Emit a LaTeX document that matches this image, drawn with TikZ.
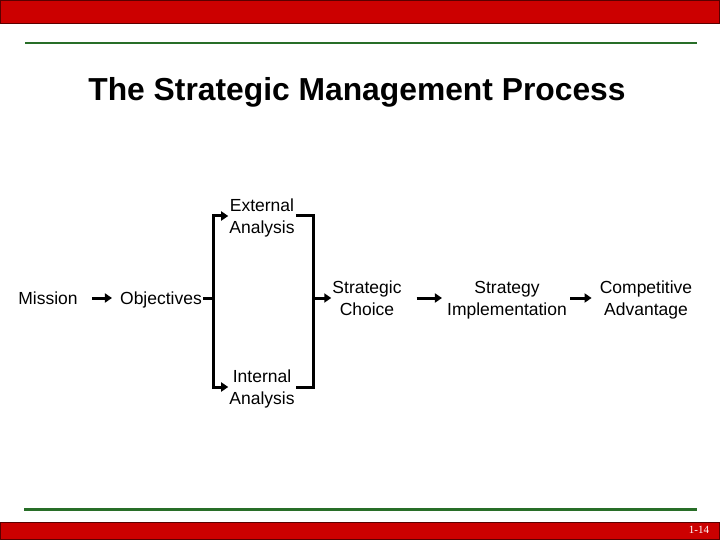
\documentclass[tikz,border=0pt]{standalone}
\usepackage{fontspec}
\setmainfont{Liberation Sans}
\newfontfamily\pagefont{Liberation Serif}
\usetikzlibrary{arrows.meta}
\definecolor{barred}{RGB}{204,0,0}
\definecolor{barline}{RGB}{90,0,0}
\definecolor{rulegreen}{RGB}{40,110,40}
\newcommand{\stagetop}{\vrule height 18.9pt depth 0pt width 0pt}
\newcommand{\stagebottom}{\vrule height 0pt depth 6.3pt width 0pt}
\tikzset{
	every stage/.style={align=center, inner sep=1pt, font=\fontsize{17.5}{21.5}\selectfont},
	link/.style={line width=3pt},
	flow/.style={link, -{Triangle[length=7pt,width=9pt]}},
}
\begin{document}
\begin{tikzpicture}[x=1pt, y=-1pt]
\useasboundingbox (0,0) rectangle (720,540);
% slide frame
\draw [fill=barred, draw=barline, line width=1pt] (0.5,0.5) rectangle (719.5,24);
\draw [fill=barred, draw=barline, line width=1pt] (0.5,522) rectangle (719.5,539.5);
\draw [rulegreen, line width=2.5pt] (25,43) -- (697,43);
\draw [rulegreen, line width=2.5pt] (24,509.5) -- (697,509.5);
\node [text=white, font=\pagefont\fontsize{11}{12}\selectfont] (pagenum) at (699,530) {1-14};

% title
\node [font=\bfseries\fontsize{31.8}{36}\selectfont] (title) at (357,92) {The Strategic Management Process};

% stages
\foreach \n/\x/\y/\t in {mission/48/298/Mission, objectives/161/298/Objectives,
		external/262/216/External\\Analysis, internal/262/387/Internal\\Analysis,
		choice/367/298/Strategic\\Choice, implementation/507/298/Strategy\\Implementation,
		advantage/646/298/Competitive\\Advantage}
	\node [every stage] (\n) at (\x,\y) {\stagetop\t\stagebottom};
\coordinate (split) at (213,298);
\coordinate (merge) at (313,298);

% connections
\foreach \a/\b/\s/\e in {mission/objectives/13/7, choice/implementation/14/4, implementation/advantage/2/7}
	\draw [flow, shorten <=\s pt, shorten >=\e pt] (\a) -- (\b);
\draw [link] (objectives) -- (split);
\draw [flow] (split) |- (external);
\draw [flow] (split) |- (internal);
\draw [link] (external) -| (merge) |- (internal);
\draw [flow] (merge) -- (choice);

\end{tikzpicture}
\end{document}
